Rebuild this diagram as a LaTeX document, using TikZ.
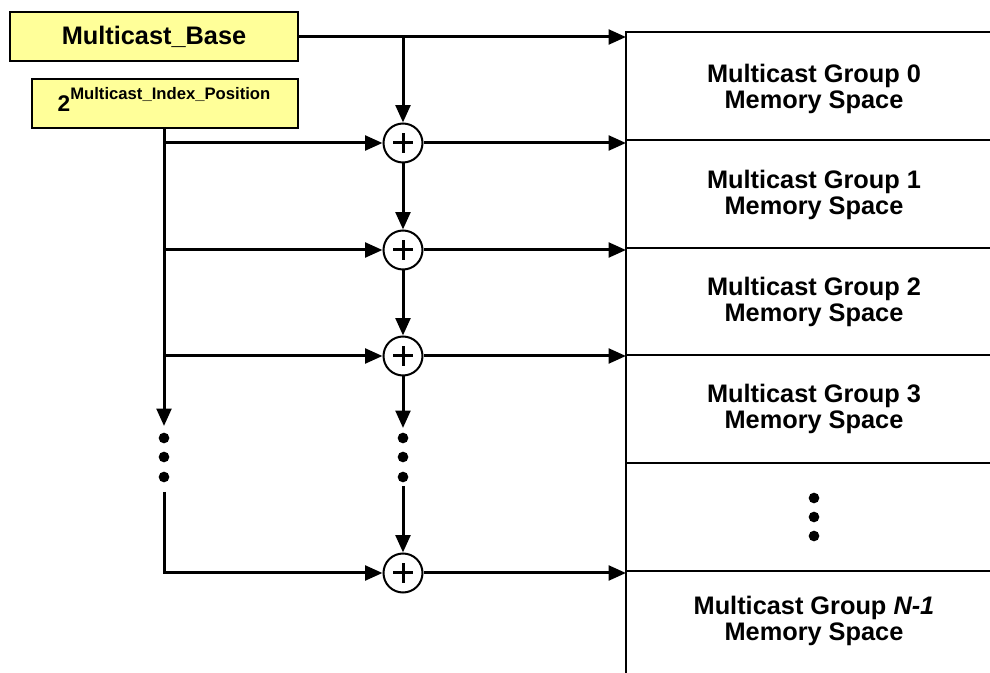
\documentclass[tikz,border=0pt]{standalone}
\usepackage{fontspec}
\setmainfont{Liberation Sans}
\usetikzlibrary{arrows.meta}
\definecolor{boxyellow}{HTML}{FFFF99}
\begin{document}
\begin{tikzpicture}[x=0.75pt,y=-0.75pt,
  bus/.style={line width=2.25pt},
  arr/.style={bus,-{Triangle[length=13pt,width=11pt]}},
  cell/.style={line width=1.5pt},
  ybox/.style={draw,fill=boxyellow,line width=1.5pt,inner sep=0pt},
  memtext/.style={align=center,font=\fontsize{19}{20}\selectfont\bfseries},
  adder/.style={circle,draw,line width=1.5pt,fill=white,minimum size=29.25pt,inner sep=0pt,
    path picture={\draw[line width=2.25pt] ([xshift=-7.5pt]path picture bounding box.center) -- ([xshift=7.5pt]path picture bounding box.center);
                  \draw[line width=2.25pt] ([yshift=-7.5pt]path picture bounding box.center) -- ([yshift=7.5pt]path picture bounding box.center);}},
  dot/.style={circle,fill=black,minimum size=8pt,inner sep=0pt}]
\useasboundingbox (0,0) rectangle (990,673);

% memory column
\draw[cell] (990,32) -- (626,32) -- (626,673);
\foreach \yy in {140,248,355,463,571} \draw[cell] (626,\yy) -- (990,\yy);
\node[memtext] (g0) at (814,89) {Multicast Group 0\\Memory Space};
\node[memtext] (g1) at (814,195) {Multicast Group 1\\Memory Space};
\node[memtext] (g2) at (814,302) {Multicast Group 2\\Memory Space};
\node[memtext] (g3) at (814,409) {Multicast Group 3\\Memory Space};
\node[memtext] (gn) at (814,621) {Multicast Group \textit{N-1}\\Memory Space};
\node[dot] (md1) at (814,498) {};
\node[dot] (md2) at (814,517) {};
\node[dot] (md3) at (814,536) {};

% yellow boxes
\node[ybox,minimum width=216pt,minimum height=36.75pt] (base) at (154,36.5)
  {\fontsize{19}{22}\selectfont\bfseries Multicast\_Base};
\node[ybox,minimum width=199.5pt,minimum height=36.75pt] (idx) at (165,103.5) {};
\node[anchor=base,inner sep=0pt] (idxt) at (164,112)
  {\bfseries\fontsize{17}{18}\selectfont 2\raisebox{9pt}{\fontsize{12.5}{14}\selectfont Multicast\_Index\_Position}};

% adders
\node[adder] (a0) at (403,143) {};
\node[adder] (a1) at (403,250) {};
\node[adder] (a2) at (403,356) {};
\node[adder] (a3) at (403,573) {};

% coordinates
\coordinate (bend) at (626,37);
\coordinate (btap) at (403,37);
\coordinate (itop) at (164,128);
\coordinate (l0) at (164,143);
\coordinate (l1) at (164,250);
\coordinate (l2) at (164,356);
\coordinate (lend) at (164,426);
\coordinate (lres) at (164,492);
\coordinate (l3) at (164,573);
\coordinate (mend) at (403,428);
\coordinate (mres) at (403,486);
\coordinate (e0) at (626,143);
\coordinate (e1) at (626,250);
\coordinate (e2) at (626,356);
\coordinate (e3) at (626,573);

% base line
\draw[arr] (base.east |- bend) -- (bend);
\draw[arr] (btap) -- (a0);

% left bus
\draw[arr] (itop) -- (lend);
\draw[arr] (l0) -- (a0);
\draw[arr] (l1) -- (a1);
\draw[arr] (l2) -- (a2);
\draw[arr] (lres) -- (l3) -- (a3);
\node[dot] (ld1) at (164,438) {};
\node[dot] (ld2) at (164,457) {};
\node[dot] (ld3) at (164,477) {};

% middle chain
\draw[arr] (a0) -- (a1);
\draw[arr] (a1) -- (a2);
\draw[arr] (a2) -- (mend);
\draw[arr] (mres) -- (a3);
\node[dot] (cd1) at (403,438) {};
\node[dot] (cd2) at (403,457) {};
\node[dot] (cd3) at (403,477) {};

% outputs
\draw[arr] (a0) -- (e0);
\draw[arr] (a1) -- (e1);
\draw[arr] (a2) -- (e2);
\draw[arr] (a3) -- (e3);
\end{tikzpicture}
\end{document}
